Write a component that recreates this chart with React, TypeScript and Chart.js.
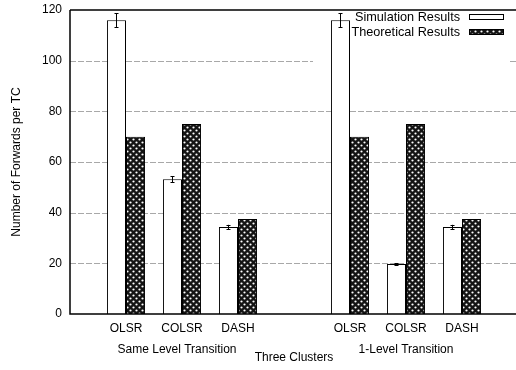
import React, { useEffect, useRef } from 'react';
import { Chart, registerables } from 'chart.js';

Chart.register(...registerables);

const categories = ['', 'OLSR', 'COLSR', 'DASH', '', 'OLSR', 'COLSR', 'DASH', ''];
const simulation = [null, 116, 53.2, 34.3, null, 116, 19.7, 34.3, null];
const simulationErr = [null, 2.7, 1.1, 0.9, null, 2.7, 0.4, 0.9, null];
const theoretical = [null, 70, 75, 37.5, null, 70, 75, 37.5, null];
const groupLabels = ['Same Level Transition', '1-Level Transition'];
const groupCenters = [2, 6];
const yTicks = [0, 20, 40, 60, 80, 100, 120];
const seriesNames = ['Simulation Results', 'Theoretical Results'];
const xTitle = 'Three Clusters';
const yTitle = 'Number of Forwards per TC';

const FONT = "'Liberation Sans', Arial, Helvetica, sans-serif";

function makePattern(): CanvasPattern | string {
  const c = document.createElement('canvas');
  c.width = 6;
  c.height = 6;
  const g = c.getContext('2d');
  if (!g) return '#333';
  g.fillStyle = '#141414';
  g.fillRect(0, 0, 6, 6);
  g.fillStyle = '#fff';
  g.beginPath();
  g.arc(1.5, 1.5, 1.1, 0, Math.PI * 2);
  g.fill();
  g.beginPath();
  g.arc(4.5, 4.5, 1.1, 0, Math.PI * 2);
  g.fill();
  const p = g.createPattern(c, 'repeat');
  return p || '#333';
}

export default function App() {
  const ref = useRef<HTMLCanvasElement | null>(null);

  useEffect(() => {
    const canvas = ref.current;
    if (!canvas) return;
    const pattern = makePattern();

    const underlay = {
      id: 'underlay',
      beforeDatasetsDraw(chart: any) {
        const { ctx, chartArea, scales } = chart;
        const y = scales.y;
        ctx.save();
        ctx.strokeStyle = '#a8a8a8';
        ctx.lineWidth = 1;
        ctx.setLineDash([6, 2]);
        yTicks.slice(1, -1).forEach((v) => {
          const py = Math.round(y.getPixelForValue(v)) + 0.5;
          ctx.beginPath();
          ctx.moveTo(chartArea.left, py);
          ctx.lineTo(chartArea.right, py);
          ctx.stroke();
        });
        ctx.setLineDash([]);
        // opaque key area
        ctx.fillStyle = '#fff';
        ctx.fillRect(313, chartArea.top + 1, 197, 62);
        ctx.restore();
      },
    };

    const overlay = {
      id: 'overlay',
      afterDatasetsDraw(chart: any) {
        const { ctx, chartArea, scales } = chart;
        const x = scales.x;
        const y = scales.y;
        ctx.save();
        // error bars
        const meta = chart.getDatasetMeta(0);
        ctx.strokeStyle = '#000';
        ctx.lineWidth = 1;
        meta.data.forEach((el: any, i: number) => {
          const v = simulation[i];
          const e = simulationErr[i];
          if (v == null || e == null) return;
          const px = Math.round(el.x) + 0.5;
          const t = y.getPixelForValue(v + e);
          const b = y.getPixelForValue(v - e);
          ctx.beginPath();
          ctx.moveTo(px, t);
          ctx.lineTo(px, b);
          ctx.moveTo(px - 2, Math.round(t) + 0.5);
          ctx.lineTo(px + 2, Math.round(t) + 0.5);
          ctx.moveTo(px - 2, Math.round(b) + 0.5);
          ctx.lineTo(px + 2, Math.round(b) + 0.5);
          ctx.stroke();
        });

        // frame: left, top, bottom
        ctx.lineWidth = 1.5;
        ctx.beginPath();
        ctx.moveTo(chartArea.left, chartArea.top);
        ctx.lineTo(chartArea.right, chartArea.top);
        ctx.moveTo(chartArea.left, chartArea.top);
        ctx.lineTo(chartArea.left, chartArea.bottom);
        ctx.lineTo(chartArea.right, chartArea.bottom);
        ctx.stroke();

        // key
        ctx.fillStyle = '#000';
        ctx.font = `12.7px ${FONT}`;
        ctx.textAlign = 'right';
        ctx.textBaseline = 'middle';
        ctx.fillText(seriesNames[0], 460, 17);
        ctx.fillText(seriesNames[1], 460, 32);
        ctx.lineWidth = 1;
        ctx.fillStyle = '#fff';
        ctx.fillRect(469.5, 14.5, 34, 5);
        ctx.strokeRect(469.5, 14.5, 34, 5);
        ctx.fillStyle = pattern as any;
        ctx.fillRect(469.5, 29.5, 34, 5);
        ctx.strokeRect(469.5, 29.5, 34, 5);

        // group labels and titles
        ctx.font = `12px ${FONT}`;
        ctx.fillStyle = '#000';
        ctx.textAlign = 'center';
        groupLabels.forEach((lbl, i) => {
          const gx = x.getPixelForValue(groupCenters[i]) - (i === 0 ? 5 : 0);
          ctx.fillText(lbl, gx, 350);
        });
        ctx.fillText(xTitle, (chartArea.left + chartArea.right) / 2, 358);
        ctx.translate(17, (chartArea.top + chartArea.bottom) / 2);
        ctx.rotate(-Math.PI / 2);
        ctx.fillText(yTitle, 0, 0);
        ctx.restore();
      },
    };

    const chart = new Chart(canvas, {
      type: 'bar',
      data: {
        labels: categories,
        datasets: [
          {
            label: seriesNames[0],
            data: simulation as any,
            backgroundColor: '#ffffff',
            borderColor: '#000000',
            borderWidth: 1,
          },
          {
            label: seriesNames[1],
            data: theoretical as any,
            backgroundColor: pattern as any,
            borderColor: '#000000',
            borderWidth: 1,
          },
        ],
      },
      options: {
        responsive: false,
        animation: false,
        devicePixelRatio: 1,
        layout: { padding: { top: 10, left: 0, right: 0, bottom: 0 } },
        datasets: { bar: { categoryPercentage: 0.68, barPercentage: 1 } },
        plugins: { legend: { display: false }, tooltip: { enabled: false } },
        scales: {
          x: {
            type: 'category',
            offset: false,
            grid: { display: false, drawTicks: false },
            border: { display: false },
            ticks: {
              color: '#000',
              font: { family: FONT, size: 12 },
              padding: 7,
              autoSkip: false,
              maxRotation: 0,
            },
            afterFit(s: any) {
              s.height = 56;
              s.paddingLeft = 0;
              s.paddingRight = 0;
            },
          },
          y: {
            min: 0,
            max: 120,
            grid: { display: false, drawTicks: false },
            border: { display: false },
            ticks: {
              stepSize: 20,
              color: '#000',
              font: { family: FONT, size: 12 },
              padding: 8,
            },
            afterFit(s: any) {
              s.width = 70;
              s.paddingTop = 0;
              s.paddingBottom = 0;
            },
          },
        },
      } as any,
      plugins: [underlay, overlay],
    });
    return () => chart.destroy();
  }, []);

  return (
    <div
      style={{
        position: 'fixed',
        left: 0,
        top: 0,
        width: 516,
        height: 370,
        overflow: 'hidden',
        background: '#fff',
      }}
    >
      <canvas ref={ref} width={518} height={370} style={{ width: 518, height: 370, display: 'block' }} />
    </div>
  );
}
